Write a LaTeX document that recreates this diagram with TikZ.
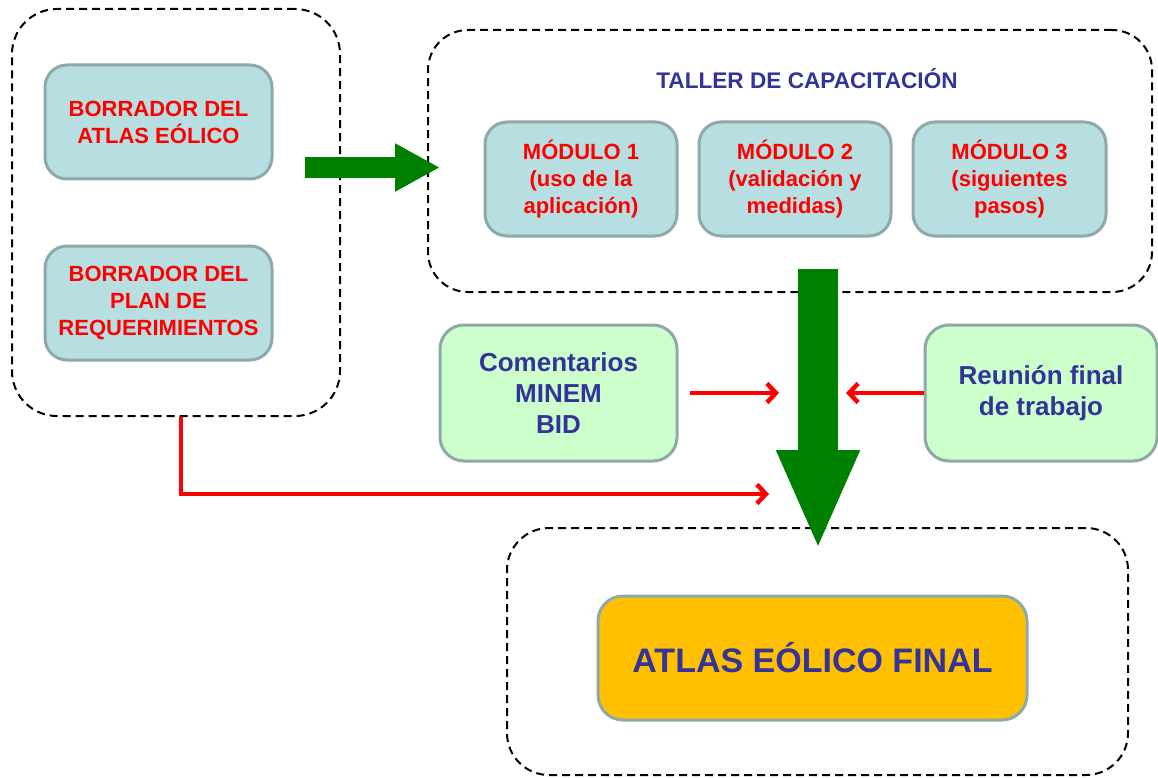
\documentclass[tikz,border=0pt]{standalone}
\usepackage{fontspec}
\setmainfont{Liberation Sans}
\usetikzlibrary{arrows.meta}

\definecolor{azulosc}{HTML}{333399}
\definecolor{celeste}{HTML}{B7DEE1}
\definecolor{borde}{HTML}{8FA8AA}
\definecolor{verdeclaro}{HTML}{CCFFCC}
\definecolor{verde}{HTML}{008000}
\definecolor{naranja}{HTML}{FFC000}

\tikzset{
    grupo/.style={draw=black, line width=2pt, dash pattern=on 8pt off 5pt,
        rounded corners=45pt},
    borrador/.style={draw=borde, line width=3pt, fill=celeste, rounded corners=22pt,
        text=red, align=center, font=\bfseries\fontsize{22}{27}\selectfont},
    nota/.style={draw=borde, line width=3pt, fill=verdeclaro, rounded corners=24pt,
        text=azulosc, align=center, font=\bfseries\fontsize{26}{31}\selectfont,
        minimum width=234pt, minimum height=136pt},
    flecharoja/.style={draw=red, line width=4pt,
        -{Straight Barb[length=9pt,width=19pt,line width=4.5pt]}},
    flechaverde/.style 2 args={draw=verde, -{Triangle[length=#1,width=#2]}},
}

\begin{document}
\begin{tikzpicture}[x=1pt,y=-1pt]
        \useasboundingbox (0,0) rectangle (1158,778);
        %% Borradores
        \node[grupo, minimum width=328pt, minimum height=407pt] (izq) at (176,212.5) {};
        \node[borrador, minimum width=227pt, minimum height=114pt] (atlas) at (158.5,122)
            {BORRADOR DEL\\ATLAS EÓLICO};
        \node[borrador, minimum width=227pt, minimum height=114pt] (plan) at (158.5,303)
            {BORRADOR DEL\\PLAN DE\\REQUERIMIENTOS};
        %% Taller
        \node[grupo, rounded corners=40pt, minimum width=724pt, minimum height=262pt] (taller) at (790,161) {};
        \node[text=azulosc, font=\bfseries\fontsize{22.6}{26}\selectfont] (titulo) at (807,79)
            {TALLER DE CAPACITACIÓN};
        \node[borrador, minimum width=192pt, minimum height=114pt] (mod1) at (581,179)
            {MÓDULO 1\\(uso de la\\aplicación)};
        \node[borrador, minimum width=192pt, minimum height=114pt] (mod2) at (795,179)
            {MÓDULO 2\\(validación y\\medidas)};
        \node[borrador, minimum width=193pt, minimum height=114pt] (mod3) at (1009.5,179)
            {MÓDULO 3\\(siguientes\\pasos)};
        %% Comentarios
        \node[nota, minimum width=237pt] (coment) at (558.5,393) {Comentarios\\MINEM\\BID};
        \node[nota, minimum width=232pt] (reunion) at (1041,393) {Reunión final\\de trabajo};
        %% Resultado
        \node[grupo, rounded corners=42pt, minimum width=621pt, minimum height=247pt] (abajo) at (817.5,651.5) {};
        \node[draw=borde, line width=3pt, fill=naranja, rounded corners=25pt,
            text=azulosc, font=\bfseries\fontsize{34}{40}\selectfont,
            minimum width=429pt, minimum height=124pt] (final) at (812.5,658)
            {ATLAS EÓLICO FINAL};
        %% Flechas verdes
        \coordinate (ini) at (305,167.5);
        \coordinate (fin) at (440,167.5);
        \coordinate (arriba) at (818,269);
        \coordinate (punta) at (818,550);
        \draw[flechaverde={45pt}{45pt}, line width=21pt] (ini) -- (fin);
        \draw[flechaverde={100pt}{76pt}, line width=40pt] (arriba) -- (punta);
        %% Flechas rojas
        \coordinate (c1) at (779,393);
        \coordinate (c2) at (846,393);
        \coordinate (c3) at (769,494);
        \draw[flecharoja] (coment.east) ++(11,0) -- (c1);
        \draw[flecharoja] (reunion.west) -- (c2);
        \draw[flecharoja] (izq.south -| 181,0) |- (c3);
    \end{tikzpicture}
\end{document}
